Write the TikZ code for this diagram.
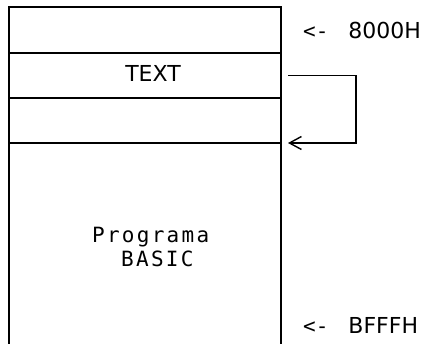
\documentclass[tikz,border=0pt]{standalone}
\usepackage{fontspec}
\setsansfont{DejaVu Sans}
\newfontfamily\monofam[LetterSpace=10.8]{DejaVu Sans Mono}
\newfontfamily\arrfam{DejaVu Sans Mono}
\usetikzlibrary{positioning,arrows.meta}
\tikzstyle{slot} = [rectangle, draw=black, line width=1.4pt, minimum
width=272pt, inner sep=0pt, outer sep=0pt]
\tikzstyle{addr} = [font=\sffamily\fontsize{22}{26}\selectfont, inner sep=0pt]
\tikzstyle{prog} = [font=\monofam\fontsize{21}{25}\selectfont, inner sep=0pt,
anchor=base west]
\tikzstyle{frame} = [line width=1.4pt]
\tikzstyle{arrow} = [line width=1.4pt,-{Straight Barb[length=12pt,width=13pt]}]
\newcommand{\lt}{{\arrfam\fontsize{21}{25}\selectfont <-}\hspace{20pt}}

\begin{document}
\begin{tikzpicture}[x=1pt,y=-1pt]
    \useasboundingbox (0,0) rectangle (426,344);
    \node (top) [slot, minimum height=46pt] at (145,30) {};
    \node (txt) [slot, minimum height=45pt, below=0pt of top] {};
    \node (gap) [slot, minimum height=45pt, below=0pt of txt] {};
    \draw [frame] (gap.south west) -- ++(0,202);
    \draw [frame] (gap.south east) -- ++(0,202);
    \node (txtlbl) [addr] at ([xshift=8pt,yshift=2.5pt]txt.center) {TEXT};
    \node (prg) [prog] at (92,243) {Programa};
    \node (bas) [prog] at (121,267) {BASIC};
    \node (start) [addr, right=22pt of top] {\lt 8000H};
    \node (end) [addr, anchor=west] at (303,325) {\lt BFFFH};
    \draw [arrow] ([xshift=7pt]txt.east) -- ++(68,0) |- ([xshift=7pt]gap.south east);
\end{tikzpicture}
\end{document}
